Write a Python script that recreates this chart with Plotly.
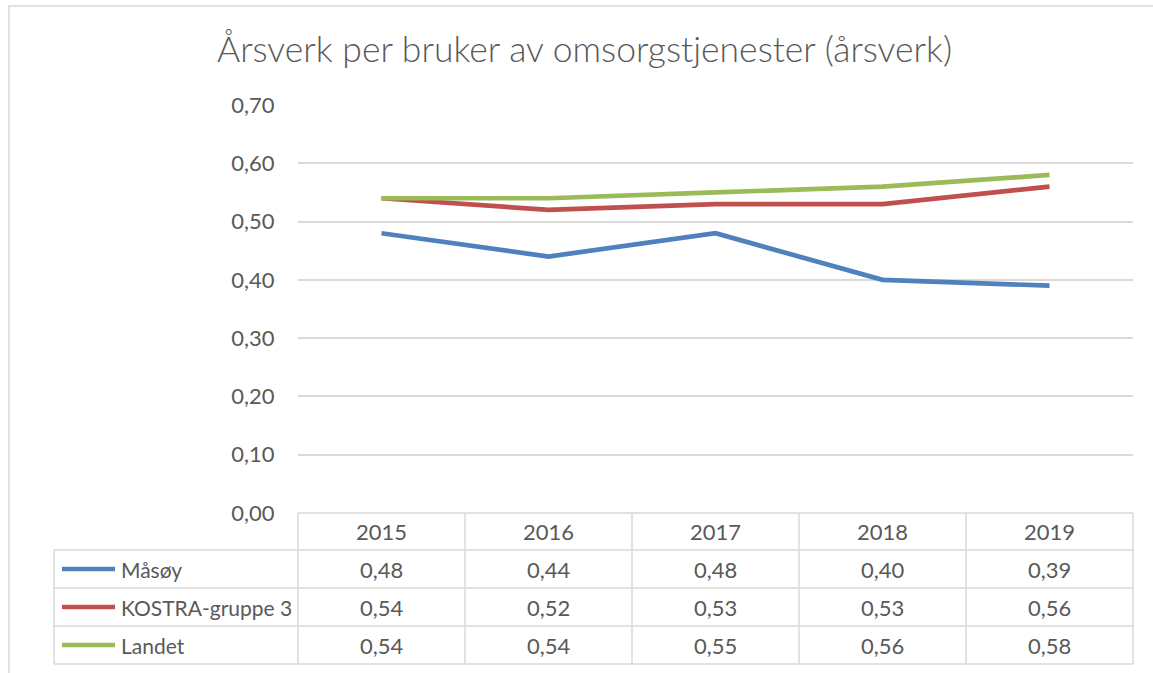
import plotly.graph_objects as go

years = ["2015", "2016", "2017", "2018", "2019"]
series_names = ["Måsøy", "KOSTRA-gruppe 3", "Landet"]
masoy = [0.48, 0.44, 0.48, 0.40, 0.39]
kostra = [0.54, 0.52, 0.53, 0.53, 0.56]
landet = [0.54, 0.54, 0.55, 0.56, 0.58]
y_ticks = [0.0, 0.1, 0.2, 0.3, 0.4, 0.5, 0.6, 0.7]
title = "Årsverk per bruker av omsorgstjenester (årsverk)"

colors = ["#4F81BD", "#C0504D", "#9BBB59"]
W, H = 1153, 673
FONT = "Lato, Open Sans, sans-serif"
TXT = "#595959"
GRID = "#D9D9D9"
FS = 21
FSN = 22

def px(x):
    return x / W

def py(y):
    return 1 - y / H

plot_left, plot_right = 298, 1133
plot_top, plot_bottom = 105, 513

fig = go.Figure()
all_series = [masoy, kostra, landet]
for name, vals, col in zip(series_names, all_series, colors):
    fig.add_trace(go.Scatter(
        x=list(range(len(years))), y=vals, mode="lines", name=name,
        line=dict(color=col, width=4.7), showlegend=False, hoverinfo="x+y"))

fig.update_layout(
    width=W, height=H, margin=dict(l=0, r=0, t=0, b=0, autoexpand=False),
    paper_bgcolor="white", plot_bgcolor="white",
    separators=", ",
    showlegend=False,
    font=dict(family=FONT, color=TXT),
    title=dict(text=title, x=0.507, xanchor="center", y=py(50), yanchor="middle",
               automargin=False,
               font=dict(size=35.5, color=TXT, family=FONT, weight=300)),
    xaxis=dict(domain=[px(plot_left), px(plot_right)], range=[-0.5, 4.5], automargin=False,
               showgrid=False, zeroline=False, showticklabels=False, fixedrange=True),
    yaxis=dict(domain=[py(plot_bottom), py(plot_top)], range=[0, 0.7], automargin=False,
               tickvals=y_ticks, tickformat=".2f", showgrid=True, gridcolor=GRID,
               gridwidth=1.5, zeroline=False, showline=False,
               tickfont=dict(size=FSN, color=TXT), ticks="outside", ticklen=18,
               tickcolor="rgba(0,0,0,0)", fixedrange=True),
)

shapes = []
# outer chart border
shapes.append(dict(type="rect", xref="paper", yref="paper",
                   x0=px(9), x1=px(1160), y0=py(690), y1=py(6),
                   line=dict(color=GRID, width=1.5)))
# data table
row_edges = [513, 550, 588, 626, 664]
col_edges = [plot_left + i * (plot_right - plot_left) / len(years) for i in range(len(years) + 1)]
leg_left = 54
line_style = dict(color=GRID, width=1.5)
shapes.append(dict(type="line", xref="paper", yref="paper", x0=px(plot_left), x1=px(plot_right),
                   y0=py(row_edges[0]), y1=py(row_edges[0]), line=line_style))
for r in row_edges[1:]:
    shapes.append(dict(type="line", xref="paper", yref="paper", x0=px(leg_left), x1=px(plot_right),
                       y0=py(r), y1=py(r), line=line_style))
for c in col_edges:
    shapes.append(dict(type="line", xref="paper", yref="paper", x0=px(c), x1=px(c),
                       y0=py(row_edges[0]), y1=py(row_edges[-1]), line=line_style))
shapes.append(dict(type="line", xref="paper", yref="paper", x0=px(leg_left), x1=px(leg_left),
                   y0=py(row_edges[1]), y1=py(row_edges[-1]), line=line_style))

annotations = []
centers = [(col_edges[i] + col_edges[i + 1]) / 2 for i in range(len(years))]
row_centers = [(row_edges[i] + row_edges[i + 1]) / 2 for i in range(len(row_edges) - 1)]
for yr, cx in zip(years, centers):
    annotations.append(dict(text=yr, x=px(cx), y=py(row_centers[0]), xref="paper", yref="paper",
                            showarrow=False, xanchor="center", yanchor="middle",
                            font=dict(size=FSN, color=TXT)))
for k, (name, vals, col) in enumerate(zip(series_names, all_series, colors)):
    ry = row_centers[k + 1]
    shapes.append(dict(type="line", xref="paper", yref="paper", x0=px(62), x1=px(115),
                       y0=py(ry), y1=py(ry), line=dict(color=col, width=4.7)))
    annotations.append(dict(text=name, x=px(119), y=py(ry), xref="paper", yref="paper",
                            showarrow=False, xanchor="left", yanchor="middle",
                            font=dict(size=FS, color=TXT)))
    for v, cx in zip(vals, centers):
        annotations.append(dict(text=f"{v:.2f}".replace(".", ","), x=px(cx), y=py(ry),
                                xref="paper", yref="paper", showarrow=False,
                                xanchor="center", yanchor="middle",
                                font=dict(size=FSN, color=TXT)))

fig.update_layout(shapes=shapes, annotations=annotations)
fig.write_html("out.html", config={"displayModeBar": False},
               post_script="document.body.style.margin='0';document.body.style.overflow='hidden';")
